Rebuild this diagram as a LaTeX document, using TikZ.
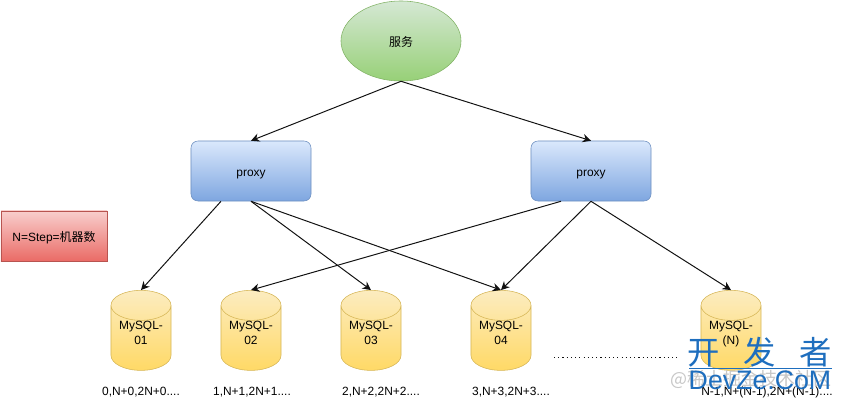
\documentclass[tikz,border=0pt]{standalone}
\usepackage{fontspec}
\setmainfont{Liberation Sans}
\newfontfamily\cjkfont{Noto Sans CJK SC}
\usetikzlibrary{shapes.geometric,arrows.meta}
\definecolor{arrowblack}{HTML}{111111}
\definecolor{markblue}{HTML}{1E6EBE}
\tikzset{
    serviceshape/.style={ellipse,draw={rgb,255:red,130;green,179;blue,102},top color={rgb,255:red,213;green,232;blue,212},bottom color={rgb,255:red,151;green,208;blue,119},minimum width=3cm,minimum height=2cm,inner sep=0pt,text height=8.5pt,text depth=0pt},
    proxyshape/.style={rectangle,rounded corners=5pt,draw={rgb,255:red,108;green,142;blue,191},top color={rgb,255:red,218;green,232;blue,252},bottom color={rgb,255:red,126;green,166;blue,224},minimum width=3cm,minimum height=1.5cm,text height=8.5pt,text depth=0pt},
    noteshape/.style={rectangle,draw={rgb,255:red,184;green,84;blue,80},top color={rgb,255:red,248;green,206;blue,204},bottom color={rgb,255:red,234;green,107;blue,102},minimum width=2.65cm,minimum height=1.25cm,inner sep=0pt,text height=8.5pt,text depth=0pt},
    dbshape/.style={cylinder,shape border rotate=90,aspect=0.5,draw={rgb,255:red,214;green,182;blue,86},top color={rgb,255:red,252;green,236;blue,192},bottom color={rgb,255:red,255;green,217;blue,102},minimum width=1.5cm,minimum height=2cm,inner sep=0pt,align=center,text width=1.5cm,execute at end node=\\[-4pt]\mbox{}},
    link/.style={draw=arrowblack,line width=0.7pt,-{Stealth[length=6pt,width=6pt]}},
    dotsline/.style={draw=arrowblack,line width=0.7pt,dash pattern=on 0.8pt off 2.2pt},
    rangelabel/.style={inner sep=0pt},
    watermark/.style={text=markblue,inner sep=0pt},
    greymark/.style={text=black!22,inner sep=0pt}
}
\begin{document}
\begin{tikzpicture}[x=0.025cm,y=-0.025cm,font=\fontsize{8.5pt}{11pt}\selectfont]
        \useasboundingbox (0,0) rectangle (843,403);
        \node[serviceshape] (service) at (401,41) {\cjkfont 服务};
        \node[proxyshape] (proxyL) at (251,171) {proxy};
        \node[proxyshape] (proxyR) at (591,171) {proxy};
        \node[noteshape] (note) at (54,236) {N=Step=\cjkfont 机器数};
        \node[dbshape] (db1) at (141,338) {MySQL-\\01};
        \node[dbshape] (db2) at (251,338) {MySQL-\\02};
        \node[dbshape] (db3) at (371,338) {MySQL-\\03};
        \node[dbshape] (db4) at (501,338) {MySQL-\\04};
        \node[dbshape] (dbN) at (731,338) {MySQL-\\(N)};
        \node[greymark,font=\fontsize{12.8pt}{13pt}\cjkfont] (markC) at (751,379) {@稀土掘金技术社区};
        \node[rangelabel] (range1) at (141,392) {0,N+0,2N+0....};
        \node[rangelabel] (range2) at (252,392) {1,N+1,2N+1....};
        \node[rangelabel] (range3) at (381,392) {2,N+2,2N+2....};
        \node[rangelabel] (range4) at (511,392) {3,N+3,2N+3....};
        \node[rangelabel] (rangeN) at (767,392) {N-1,N+(N-1),2N+(N-1)....};
        \draw[link] (service.south) -- (proxyL.north);
        \draw[link] (service.south) -- (proxyR.north);
        \draw[link] ([xshift=-0.75cm]proxyL.south) -- (db1.north);
        \draw[link] (proxyL.south) -- (db3.north);
        \draw[link] (proxyL.south) -- (db4.north);
        \draw[link] ([xshift=-0.75cm]proxyR.south) -- (db2.north);
        \draw[link] (proxyR.south) -- (db4.north);
        \draw[link] (proxyR.south) -- (dbN.north);
        \coordinate (dotsL) at (554,357);
        \coordinate (dotsR) at (677,357);
        \draw[dotsline] (dotsL) -- (dotsR);
        \node[watermark,font=\fontsize{23pt}{23pt}\cjkfont] (markA) at (760,352) {开\hspace{0.73em}发\hspace{0.73em}者};
        \node[watermark,font=\fontsize{19pt}{19pt}\selectfont] (markB) at (760,380) {DevZe.CoM};
        \coordinate (ruleL) at (689,368);
        \coordinate (ruleR) at (832,368);
        \draw[markblue,line width=0.5pt] (ruleL) -- (ruleR);
    \end{tikzpicture}
\end{document}
